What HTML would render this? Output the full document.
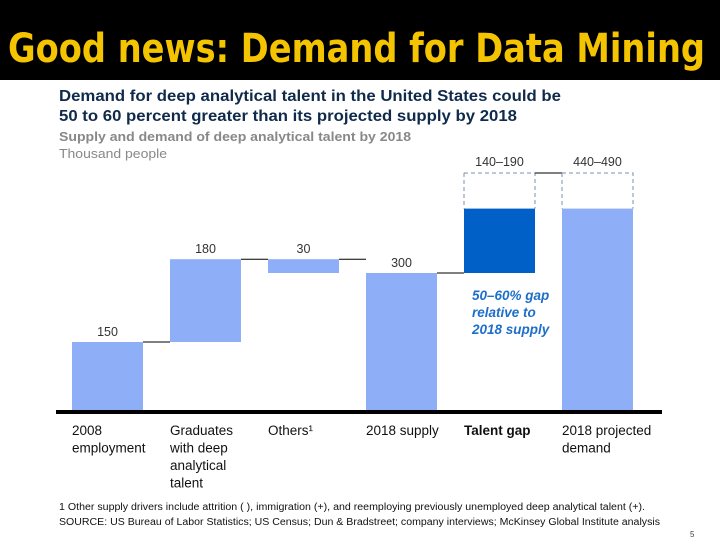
<!DOCTYPE html>
<html><head><meta charset="utf-8"><style>
body{margin:0;width:720px;height:540px;overflow:hidden;background:#fff;font-family:"Liberation Sans",sans-serif}
</style></head><body>
<svg id="c" width="720" height="540" xmlns="http://www.w3.org/2000/svg">
<rect x="0" y="0" width="720" height="80" fill="#000"/>
<text x="8" y="62" font-size="40" font-weight="bold" fill="#f5c400" textLength="697" lengthAdjust="spacingAndGlyphs" font-family="DejaVu Sans, Liberation Sans, sans-serif">Good news: Demand for Data Mining</text>
<text x="59" y="101" font-size="15.5" font-weight="bold" fill="#0f2a4a" textLength="502" lengthAdjust="spacingAndGlyphs">Demand for deep analytical talent in the United States could be</text>
<text x="59" y="121" font-size="15.5" font-weight="bold" fill="#0f2a4a" textLength="458" lengthAdjust="spacingAndGlyphs">50 to 60 percent greater than its projected supply by 2018</text>
<text x="59" y="141" font-size="13" font-weight="bold" fill="#888" textLength="352" lengthAdjust="spacingAndGlyphs">Supply and demand of deep analytical talent by 2018</text>
<text x="59" y="158" font-size="13" fill="#888" textLength="108" lengthAdjust="spacingAndGlyphs">Thousand people</text>
<g id="bars"></g>
<line x1="56" y1="412" x2="662" y2="412" stroke="#000" stroke-width="4"/>
<text x="472" y="300" font-size="13.5" font-weight="bold" font-style="italic" fill="#1e6fc8">50–60% gap</text>
<text x="472" y="317" font-size="13.5" font-weight="bold" font-style="italic" fill="#1e6fc8">relative to</text>
<text x="472" y="334" font-size="13.5" font-weight="bold" font-style="italic" fill="#1e6fc8">2018 supply</text>
<g id="cats" font-size="13.5" fill="#111"></g>
<text x="59" y="510" font-size="10" fill="#111" textLength="586" lengthAdjust="spacingAndGlyphs">1  Other supply drivers include attrition ( ), immigration (+), and reemploying previously unemployed deep analytical talent (+).</text>
<text x="59" y="525" font-size="10" fill="#111" textLength="601" lengthAdjust="spacingAndGlyphs">SOURCE: US Bureau of Labor Statistics; US Census; Dun &amp; Bradstreet; company interviews; McKinsey Global Institute analysis</text>
<text x="690" y="537" font-size="8" fill="#444">5</text>
</svg>
<script>
const categories=["2008 employment","Graduates with deep analytical talent","Others¹","2018 supply","Talent gap","2018 projected demand"];
const startVals=[0,150,300,0,300,0];
const endVals=[150,330,330,300,440,440];
const rangeTop=[null,null,null,null,490,490];
const valueLabels=["150","180","30","300","140–190","440–490"];
const barColors=["#8eaef8","#8eaef8","#8eaef8","#8eaef8","#0060c8","#8eaef8"];
const catLines=[["2008","employment"],["Graduates","with deep","analytical","talent"],["Others¹"],["2018 supply"],["Talent gap"],["2018 projected","demand"]];
const NS="http://www.w3.org/2000/svg";
const baseY=411,pxPer=0.46,lowX=72,step=98,bw=71;
const rangeScale=v=>v>440?173:y(v);
function y(v){return baseY-v*pxPer;}
function xb(i){return lowX+i*step;}
const g=document.getElementById('bars'),cg=document.getElementById('cats');
function mk(t,a,p){const e=document.createElementNS(NS,t);for(const k in a)e.setAttribute(k,a[k]);p.appendChild(e);return e;}
categories.forEach((c,i)=>{
 const lo=Math.min(startVals[i],endVals[i]),hi=Math.max(startVals[i],endVals[i]);
 const r=mk('rect',{x:xb(i),y:y(hi),width:bw,height:y(lo)-y(hi),fill:barColors[i]},g);
 
 
 let ly=y(hi)-6;
 if(rangeTop[i]!==null){
  const ty=rangeScale(rangeTop[i]);
  const d=mk('path',{d:`M${xb(i)} ${ty}H${xb(i)+bw}V${y(hi)}M${xb(i)} ${ty}V${y(hi)}`,fill:"none",stroke:"#7790b0","stroke-dasharray":"4,3","stroke-width":1},g);
  
  
  ly=ty-7;
 }
 const t=mk('text',{x:xb(i)+bw/2,y:ly,"text-anchor":"middle","font-size":12.5,fill:"#333"},g);
 t.textContent=valueLabels[i];
 
 
 if(i<categories.length-1){
  const cy=y(endVals[i]);
  const cyy=(i===4)?rangeScale(rangeTop[i]):cy;
  const l=mk('line',{x1:xb(i)+bw,x2:xb(i+1),y1:cyy,y2:cyy,stroke:"#000","stroke-width":1},g);
  
  
 }
 catLines[i].forEach((s,k)=>{
  const ct=mk('text',{x:xb(i),y:435+k*17.5,"font-weight":i===4?"bold":"normal"},cg);
  ct.textContent=s;
  
  
 });
});
</script>
</body></html>
